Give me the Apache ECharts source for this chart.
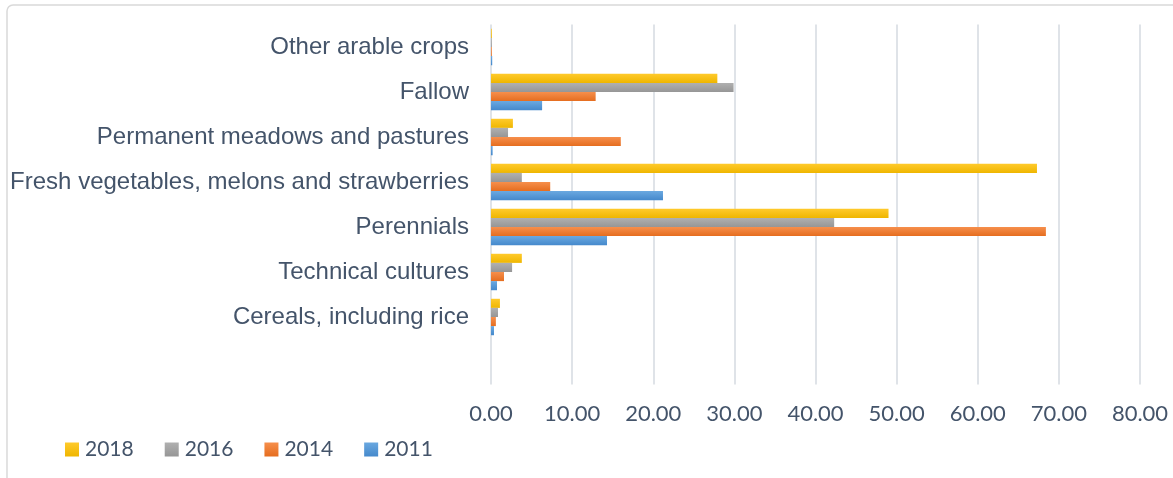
<!DOCTYPE html>
<html><head><meta charset="utf-8">
<script src="https://cdn.jsdelivr.net/npm/echarts@6/dist/echarts.min.js"></script>
<style>html,body{margin:0;padding:0;background:#fff}#c{width:1173px;height:478px}</style>
</head><body><div id="c"></div>
<script>
const categories = ["", "Cereals, including rice", "Technical cultures", "Perennials", "Fresh vegetables, melons and strawberries", "Permanent meadows and pastures", "Fallow", "Other arable crops"];
const v2011 = [null, 0.37, 0.74, 14.3, 21.2, 0.2, 6.3, 0.15];
const v2014 = [null, 0.6, 1.6, 68.4, 7.3, 16.0, 12.9, 0.1];
const v2016 = [null, 0.86, 2.6, 42.3, 3.8, 2.1, 29.9, 0.1];
const v2018 = [null, 1.1, 3.8, 49.0, 67.3, 2.7, 27.9, 0.1];
const xTicks = [0, 10, 20, 30, 40, 50, 60, 70, 80];

const txt = '#44546a';
const font = 'Lato';
function grad(a, b) {
  return new echarts.graphic.LinearGradient(0, 0, 0, 1, [{offset: 0, color: a}, {offset: 1, color: b}]);
}
const seriesDefs = [
  {name: '2018', data: v2018, c: grad('#ffca2c', '#efb600')},
  {name: '2016', data: v2016, c: grad('#b0b0b0', '#969696')},
  {name: '2014', data: v2014, c: grad('#f68f4c', '#e56d1f')},
  {name: '2011', data: v2011, c: grad('#6aa8e0', '#4589cc')}
];
const chart = echarts.init(document.getElementById('c'));
chart.setOption({
  animation: false,
  graphic: [{type: 'rect', shape: {x: 7, y: 5, width: 1250, height: 560, r: 6}, style: {fill: 'none', stroke: '#d9d9d9', lineWidth: 1.5}, silent: true, z: -1}],
  grid: {left: 491, right: 33, top: 24.5, bottom: 93.5, containLabel: false},
  legend: {
    data: ['2018', '2016', '2014', '2011'],
    left: 60, top: 434, itemWidth: 14, itemHeight: 14, itemGap: 31,
    icon: 'rect',
    textStyle: {color: txt, fontSize: 21, fontFamily: font, padding: [0, 0, 0, 1]}
  },
  xAxis: {
    type: 'value', min: 0, max: 80, interval: 10,
    axisLine: {show: false}, axisTick: {show: false},
    splitLine: {show: true, lineStyle: {color: '#dfe3e8', width: 2}},
    axisLabel: {color: txt, fontSize: 22, fontFamily: font, margin: 18,
      formatter: v => xTicks.includes(v) ? v.toFixed(2) : ''}
  },
  yAxis: {
    type: 'category', data: categories,
    axisLine: {show: false}, axisTick: {show: false},
    axisLabel: {color: txt, fontSize: 24, fontFamily: 'Liberation Sans', margin: 22}
  },
  series: seriesDefs.map(s => ({
    name: s.name, type: 'bar', data: s.data,
    barGap: '0%', barCategoryGap: '19%',
    itemStyle: {color: s.c}
  }))
});
</script>
</body></html>
